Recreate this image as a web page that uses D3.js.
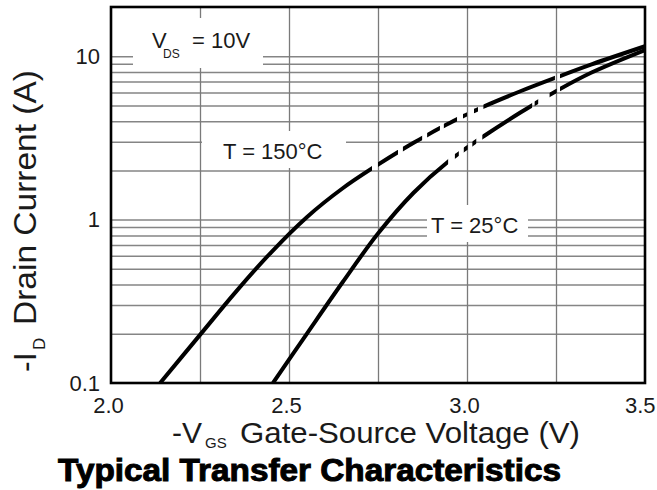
<!DOCTYPE html>
<html>
<head>
<meta charset="utf-8">
<script src="https://cdn.jsdelivr.net/npm/d3@7"></script>
<style>
  html, body { margin: 0; padding: 0; background: #fff; }
  svg { display: block; font-family: "Liberation Sans", Arial, Helvetica, sans-serif; }
</style>
</head>
<body>
<svg id="chart" width="657" height="490"></svg>
<script>
// Transfer characteristics: -ID versus -VGS at VDS = 10 V
const vgs150 = [2.138, 2.25, 2.35, 2.45, 2.55, 2.65, 2.75, 2.85, 2.95, 3.05, 3.15, 3.25, 3.35, 3.5];
const id150  = [0.1, 0.197, 0.36, 0.631, 1.035, 1.55, 2.17, 2.95, 3.89, 4.95, 6.1, 7.4, 8.91, 11.5];

const vgs25 = [2.455, 2.55, 2.65, 2.75, 2.85, 2.95, 3.05, 3.15, 3.25, 3.35, 3.5];
const id25  = [0.1, 0.2, 0.412, 0.822, 1.46, 2.29, 3.27, 4.52, 6.1, 7.94, 10.9];

const xTickValues = [2.0, 2.5, 3.0, 3.5];
const xTickLabels = ["2.0", "2.5", "3.0", "3.5"];
const yTickValues = [0.1, 1, 10];
const yTickLabels = ["0.1", "1", "10"];

const W = 657, H = 490;
const plot = { left: 111, right: 645, top: 7, bottom: 383 };

const x = d3.scaleLinear().domain([2.0, 3.5]).range([plot.left, plot.right]);
const y = d3.scaleLog().domain([0.1, 20]).range([plot.bottom, plot.top]);

const svg = d3.select("#chart");
svg.append("rect").attr("width", W).attr("height", H).attr("fill", "#fff");

// ---- grid ----
const xGrid = [2.25, 2.5, 2.75, 3.0, 3.25];
const yGrid = [];
[0.1, 1].forEach(dec => { for (let k = 2; k <= 10; k++) yGrid.push(+(k * dec).toFixed(3)); });

const gy = svg.append("g")
  .attr("transform", `translate(${plot.left},0)`)
  .call(d3.axisLeft(y).tickValues(yGrid).tickSize(-(plot.right - plot.left)).tickFormat(""));
gy.select(".domain").remove();
gy.selectAll("line").attr("stroke", "#858585").attr("stroke-width", 1.5);

const gx = svg.append("g")
  .attr("transform", `translate(0,${plot.bottom})`)
  .call(d3.axisBottom(x).tickValues(xGrid).tickSize(-(plot.bottom - plot.top)).tickFormat(""));
gx.select(".domain").remove();
gx.selectAll("line").attr("stroke", "#7a7a7a").attr("stroke-width", 1.3);

// ---- white boxes behind annotations ----
const boxes = [
  { x0: 133, x1: 263, y0: 18, y1: 68 },
  { x0: 202, x1: 346, y0: 131, y1: 168 },
  { x0: 427, x1: 528, y0: 205, y1: 242 }
];
svg.append("g").selectAll("rect").data(boxes).join("rect")
  .attr("x", d => d.x0).attr("y", d => d.y0)
  .attr("width", d => d.x1 - d.x0).attr("height", d => d.y1 - d.y0)
  .attr("fill", "#fff");

// ---- curves ----
const line = d3.line()
  .x(d => x(d.v)).y(d => y(d.i))
  .curve(d3.curveCatmullRom.alpha(0.5));

const series = [
  { key: "t150", pts: vgs150.map((v, k) => ({ v, i: id150[k] })),
    // drawn stretches along -VGS (solid, dashes, dots)
    show: [[2.0, 2.733], [2.750, 2.806], [2.820, 2.874], [2.888, 2.924], [2.935, 2.972],
           [2.989, 3.000], [3.020, 3.031], [3.046, 3.247], [3.261, 3.5]] },
  { key: "t25", pts: vgs25.map((v, k) => ({ v, i: id25[k] })),
    show: [[2.0, 2.947], [2.966, 2.977], [2.991, 3.002], [3.015, 3.026], [3.043, 3.183],
           [3.190, 3.200], [3.232, 3.252], [3.261, 3.5]] }
];

const defs = svg.append("defs");
series.forEach(s => {
  s.show.forEach((r, j) => {
    const id = `clip-${s.key}-${j}`;
    defs.append("clipPath").attr("id", id)
      .append("rect")
      .attr("x", x(r[0])).attr("y", plot.top)
      .attr("width", x(r[1]) - x(r[0])).attr("height", plot.bottom - plot.top);
    svg.append("path")
      .attr("d", line(s.pts))
      .attr("fill", "none")
      .attr("stroke", "#000")
      .attr("stroke-width", 4)
      .attr("clip-path", `url(#${id})`);
  });
});

// ---- frame ----
svg.append("rect")
  .attr("x", plot.left).attr("y", plot.top)
  .attr("width", plot.right - plot.left).attr("height", plot.bottom - plot.top)
  .attr("fill", "none").attr("stroke", "#000").attr("stroke-width", 2.6);

// ---- tick labels ----
const ay = svg.append("g")
  .attr("transform", `translate(${plot.left},0)`)
  .call(d3.axisLeft(y).tickValues(yTickValues).tickSize(0).tickPadding(11)
    .tickFormat((d, k) => yTickLabels[k]));
ay.select(".domain").remove();
ay.selectAll("text").attr("font-size", 22).attr("fill", "#1a1a1a")
  .attr("font-family", '"Liberation Sans", Arial, sans-serif');

const ax = svg.append("g")
  .attr("transform", `translate(0,${plot.bottom})`)
  .call(d3.axisBottom(x).tickValues(xTickValues).tickSize(0).tickPadding(14)
    .tickFormat((d, k) => xTickLabels[k]));
ax.select(".domain").remove();
ax.selectAll("text").attr("font-size", 22).attr("fill", "#1a1a1a")
  .attr("font-family", '"Liberation Sans", Arial, sans-serif')
  .attr("dx", -3);
ax.selectAll("text").filter((d, k, n) => k === n.length - 1)
  .attr("text-anchor", "end").attr("dx", 10);

// ---- annotations ----
const ann = svg.append("g").attr("fill", "#1a1a1a");
ann.append("text").attr("x", 152).attr("y", 48).attr("font-size", 22).text("V");
ann.append("text").attr("x", 163).attr("y", 58).attr("font-size", 12).text("DS");
ann.append("text").attr("x", 192).attr("y", 48).attr("font-size", 22).text("= 10V");
ann.append("text").attr("x", 223).attr("y", 159).attr("font-size", 22).text("T = 150°C");
ann.append("text").attr("x", 431).attr("y", 233).attr("font-size", 22).text("T = 25°C");

// ---- axis titles ----
const xt = svg.append("g").attr("fill", "#1a1a1a");
xt.append("text").attr("x", 172).attr("y", 443).attr("font-size", 30).text("-V");
xt.append("text").attr("x", 205).attr("y", 448).attr("font-size", 15).text("GS");
xt.append("text").attr("x", 240).attr("y", 443).attr("font-size", 30)
  .attr("textLength", 340).attr("lengthAdjust", "spacingAndGlyphs")
  .text("Gate-Source  Voltage  (V)");

const yt = svg.append("g").attr("fill", "#1a1a1a")
  .attr("transform", "translate(36,0) rotate(-90)");
yt.append("text").attr("x", -372).attr("y", 0).attr("font-size", 32).text("-I");
yt.append("text").attr("x", -350).attr("y", 9).attr("font-size", 17).text("D");
yt.append("text").attr("x", -325).attr("y", 0).attr("font-size", 32)
  .attr("textLength", 255).attr("lengthAdjust", "spacingAndGlyphs")
  .text("Drain Current (A)");

// ---- chart title ----
svg.append("text")
  .attr("x", 58).attr("y", 481)
  .attr("font-size", 31).attr("font-weight", "bold")
  .attr("fill", "#000").attr("stroke", "#000").attr("stroke-width", 1)
  .attr("textLength", 503).attr("lengthAdjust", "spacingAndGlyphs")
  .text("Typical Transfer Characteristics");
</script>
</body>
</html>
